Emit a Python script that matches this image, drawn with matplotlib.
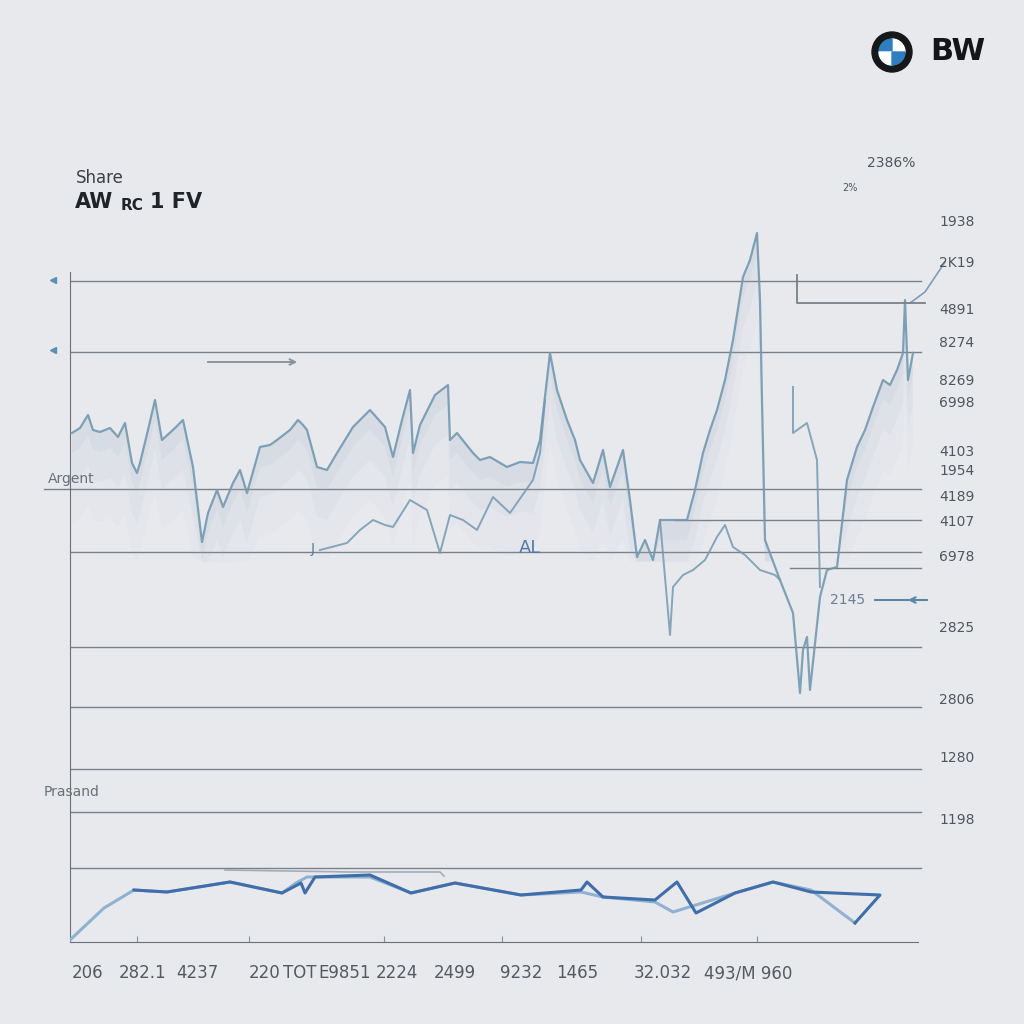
import numpy as np
import matplotlib.pyplot as plt
from matplotlib.patches import Circle, Wedge

# main share-price trace (x = time, y = price)
main_x = [0.2, 1.0, 1.8, 2.3, 3.0, 4.0, 4.8, 5.5, 6.2, 6.7, 7.0, 7.8, 8.5, 9.2, 10.5, 11.3,
          12.3, 13.2, 13.8, 14.7, 15.3, 16.3, 17.0, 17.7, 19.0, 20.0, 20.7, 22.0, 22.8, 23.3,
          23.7, 24.7, 25.7, 26.7, 28.3, 30.0, 31.5, 32.3, 33.2, 34.0, 34.3, 35.0, 36.5, 37.8,
          38.0, 38.7, 40.3, 41.0, 42.0, 43.7, 45.0, 46.3, 47.0, 48.0, 48.7, 49.7, 50.5, 51.0,
          52.3, 53.3, 54.0, 55.3, 56.0, 56.7, 57.5, 58.3, 59.0, 59.7, 61.7, 62.5, 63.3, 64.0,
          64.7, 65.5, 66.3, 67.3, 68.0, 68.7, 69.0, 69.2, 69.5, 71.0, 72.3, 73.0, 73.3, 73.7,
          74.0, 75.0, 75.7, 76.7, 77.7, 78.7, 79.5, 80.3, 81.3, 82.0, 82.7, 83.3, 83.5, 83.8, 84.3]
main_y = [50.9, 51.4, 52.7, 51.2, 51.0, 51.4, 50.5, 51.9, 47.9, 46.9, 47.9, 51.2, 54.2, 50.2, 51.4, 52.2,
          47.5, 40.0, 42.9, 45.2, 43.5, 45.9, 47.2, 44.9, 49.5, 49.7, 50.2, 51.2, 52.2, 51.7,
          51.2, 47.5, 47.2, 48.9, 51.5, 53.2, 51.5, 48.5, 52.2, 55.2, 48.9, 51.7, 54.7, 55.7,
          50.2, 50.9, 48.9, 48.2, 48.5, 47.5, 48.0, 47.9, 50.2, 58.9, 55.2, 52.2, 50.2, 48.2,
          45.9, 49.2, 45.5, 49.2, 44.2, 38.5, 40.2, 38.2, 42.2, 42.2, 42.2, 45.2, 48.9, 51.2,
          53.2, 56.2, 60.2, 66.5, 68.2, 70.9, 64.2, 54.2, 40.2, 36.2, 32.9, 24.9, 29.2, 30.5,
          25.2, 34.5, 37.2, 37.5, 46.2, 49.5, 51.2, 53.5, 56.2, 55.7, 57.2, 58.9, 64.2, 56.2, 58.9]

# lower branch, middle
low_x = [25.0, 27.7, 29.0, 30.3, 31.5, 32.3, 34.0, 35.7, 37.0, 38.0, 39.3, 40.7, 42.3, 44.0, 46.3, 47.0, 47.5]
low_y = [39.2, 39.9, 41.2, 42.2, 41.7, 41.5, 44.2, 43.2, 38.9, 42.7, 42.2, 41.2, 44.5, 42.9, 46.2, 48.9, 54.2]

# lower branch, right
dip_x = [59.0, 59.7, 60.0, 60.3, 61.3, 62.3, 63.5, 64.7, 65.5, 66.3, 67.5, 69.0, 70.5, 71.0]
dip_y = [42.2, 34.2, 30.7, 35.5, 36.7, 37.2, 38.2, 40.5, 41.7, 39.5, 38.7, 37.2, 36.7, 36.2]

drop_x = [72.3, 72.3, 73.7, 74.7, 75.0]
drop_y = [55.5, 50.9, 51.9, 48.2, 35.5]

# bottom volume-like series
dark_x = [6.4, 9.7, 16.0, 21.2, 23.1, 23.5, 24.5, 30.0, 34.1, 38.5, 45.1, 51.1, 51.7, 53.3,
          58.5, 60.7, 62.6, 66.5, 70.3, 74.1, 81.0, 78.5]
dark_y = [5.2, 5.0, 6.0, 4.9, 5.9, 4.9, 6.5, 6.7, 4.9, 5.9, 4.7, 5.2, 6.0, 4.5,
          4.2, 6.0, 2.9, 4.9, 6.0, 5.0, 4.7, 1.9]
light_x = [0.0, 3.4, 6.4, 9.7, 16.0, 21.2, 22.6, 23.7, 30.0, 34.1, 38.5, 45.1, 51.1, 53.3,
           58.5, 60.3, 66.5, 70.3, 74.1, 78.5]
light_y = [0.2, 3.4, 5.2, 5.0, 6.0, 4.9, 5.9, 6.5, 6.5, 4.9, 5.9, 4.7, 5.0, 4.5,
           4.0, 3.0, 4.9, 6.0, 5.2, 1.9]
faint_x = [15.5, 28.0, 37.0, 37.4]
faint_y = [7.2, 7.0, 7.0, 6.6]

grid_levels = [66.1, 59.0, 45.3, 39.0, 29.5, 23.5, 17.3, 13.0, 7.4]
short_levels = [(42.2, 0.703), (37.4, 0.837)]

right_labels = [("1938", 222), ("2K19", 263), ("4891", 310), ("8274", 343), ("8269", 381),
                ("6998", 403), ("4103", 452), ("1954", 471), ("4189", 497), ("4107", 522),
                ("6978", 557), ("2825", 628), ("2806", 700), ("1280", 758), ("1198", 820)]
bottom_labels = [("206", 88), ("282.1", 143), ("4237", 197), ("220", 265), ("TOT", 300),
                 ("E9851", 345), ("2224", 397), ("2499", 455), ("9232", 521), ("1465", 577),
                 ("32.032", 663), ("493/M 960", 748)]
tick_pos = [6.7, 17.9, 31.4, 43.2, 57.1, 68.7]

bg = '#e8e9ed'
line_c = '#7399b1'
grid_c = '#7a8089'
txt_c = '#50565f'

fig = plt.figure(figsize=(10.24, 10.24), dpi=100, facecolor=bg)
ax = fig.add_axes([70/1024, 82/1024, 860/1024, 712/1024])
ax.set_facecolor(bg)
ax.set_xlim(0, 86)
ax.set_ylim(0, 71.2)

for lv in grid_levels:
    ax.axhline(lv, xmin=0, xmax=0.99, color=grid_c, lw=1.0, zorder=1)
ax.axhline(45.3, xmin=-0.03, xmax=0.0, color=grid_c, lw=1.0, clip_on=False)
for lv, start in short_levels:
    ax.axhline(lv, xmin=start, xmax=0.99, color=grid_c, lw=1.0, zorder=1)

mx = np.array(main_x)
my = np.array(main_y)
# faint haze under the trace, stacked bands so it fades downward
for off, a in [(2, 0.10), (5, 0.07), (9, 0.05)]:
    ax.fill_between(mx, my, np.maximum(my - off, 38), where=my > 38, interpolate=True,
                    color='#9fb4c6', alpha=a, lw=0, zorder=2)
ax.plot(mx, my, color=line_c, lw=1.6, alpha=0.9, zorder=3)
ax.plot(low_x, low_y, color=line_c, lw=1.4, alpha=0.85, zorder=3)
ax.plot(dip_x, dip_y, color=line_c, lw=1.4, alpha=0.85, zorder=3)
ax.plot(drop_x, drop_y, color=line_c, lw=1.4, alpha=0.85, zorder=3)

ax.plot(faint_x, faint_y, color='#a3acb6', lw=1.2, zorder=3)
ax.plot(light_x, light_y, color='#8fb2d0', lw=2.2, zorder=4)
ax.plot(dark_x, dark_y, color='#3f6eaa', lw=2.2, zorder=5)

# bracket / annotations
ax.plot([72.7, 72.7, 85.5], [66.7, 63.9, 63.9], color=grid_c, lw=1.3, zorder=3)
ax.plot([84.0, 85.5, 87.5], [63.9, 65.0, 68.0], color='#7f9db8', lw=1.2, clip_on=False)
ax.annotate('', xy=(23.0, 58.0), xytext=(13.5, 58.0),
            arrowprops=dict(arrowstyle='->', color='#8c939c', lw=1.4))
ax.annotate('', xy=(83.5, 34.2), xytext=(86.0, 34.2),
            arrowprops=dict(arrowstyle='->', color='#5a87a6', lw=1.5), annotation_clip=False)
ax.plot([80.5, 84.0], [34.2, 34.2], color='#5a87a6', lw=1.5)
ax.text(77.8, 34.2, '2145', fontsize=10, color='#6a7f95', ha='center', va='center')
ax.text(46.0, 39.4, 'AL', fontsize=13, color='#4f7aa3', ha='center', va='center')
ax.text(24.3, 39.3, 'J', fontsize=10, color='#4f7aa3', ha='center', va='center')
ax.plot([-1.7, -1.7], [66.2, 59.2], ls='none', marker='<', ms=5, color='#5b8fb4', clip_on=False)

ax.spines['top'].set_visible(False)
ax.spines['right'].set_visible(False)
ax.spines['left'].set_color('#6b7078')
ax.spines['bottom'].set_color('#6b7078')
ax.spines['left'].set_bounds(0, 67.0)
ax.spines['bottom'].set_bounds(0, 84.8)
ax.set_xticks(tick_pos)
ax.set_xticklabels([])
ax.set_yticks([])
ax.tick_params(axis='x', direction='in', length=4, color='#8a9099')

# texts around the plot
for lab, py in right_labels:
    fig.text(957/1024, 1 - py/1024, lab, fontsize=10, color=txt_c, ha='center', va='center')
fig.text(891/1024, 1 - 163/1024, '2386%', fontsize=10, color=txt_c, ha='center', va='center')
fig.text(850/1024, 1 - 188/1024, '2%', fontsize=7, color=txt_c, ha='center', va='center')
for lab, px in bottom_labels:
    fig.text(px/1024, 1 - 973/1024, lab, fontsize=12, color='#555a62', ha='center', va='center',
             family='Liberation Sans Narrow')

fig.text(76/1024, 1 - 178/1024, 'Share', fontsize=12, color='#3c4046', ha='left', va='center')
fig.text(75/1024, 1 - 202/1024, 'AW', fontsize=15, fontweight='bold', color='#202328', ha='left', va='center')
fig.text(121/1024, 1 - 206/1024, 'RC', fontsize=11, fontweight='bold', color='#202328', ha='left', va='center')
fig.text(150/1024, 1 - 202/1024, '1 FV', fontsize=15, fontweight='bold', color='#202328', ha='left', va='center')
fig.text(48/1024, 1 - 479/1024, 'Argent', fontsize=10, color='#6a7079', ha='left', va='center')
fig.text(44/1024, 1 - 792/1024, 'Prasand', fontsize=10, color='#6a7079', ha='left', va='center')

# logo
cx, cy = 892/1024, 1 - 52/1024
fig.patches.append(Circle((cx, cy), 20/1024, transform=fig.transFigure, color='#15171a'))
for i, c in enumerate(['#ffffff', '#2f7fc0', '#ffffff', '#2f7fc0']):
    fig.patches.append(Wedge((cx, cy), 13/1024, i*90, (i+1)*90, transform=fig.transFigure, color=c))
fig.text(958/1024, cy, 'BW', fontsize=22, fontweight='bold', color='#141517', ha='center', va='center')

fig.savefig('out.png', dpi=100, facecolor=bg)
